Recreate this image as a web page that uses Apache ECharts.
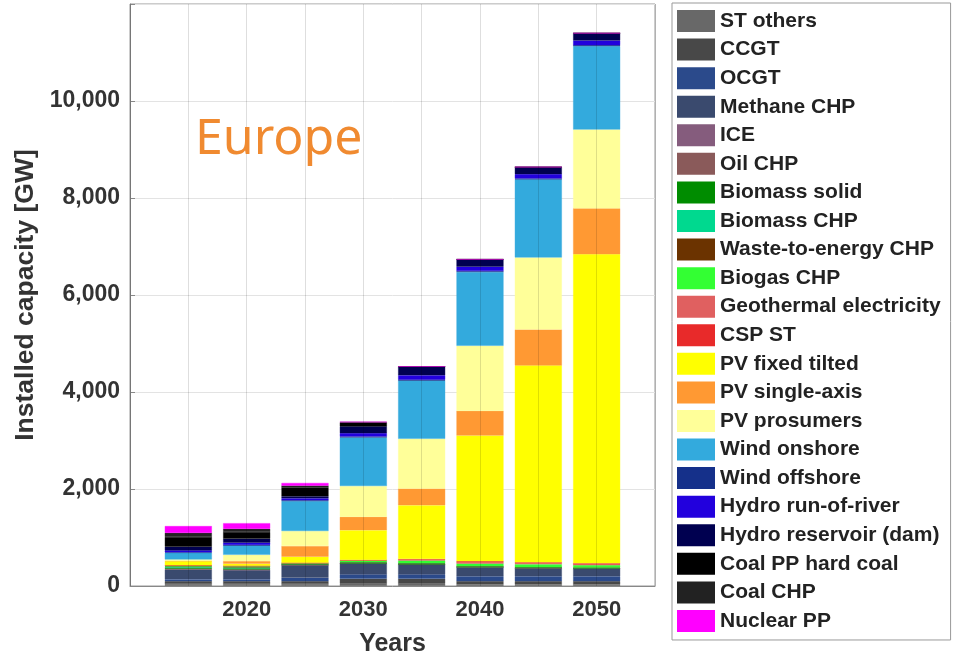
<!DOCTYPE html>
<html>
<head>
<meta charset="utf-8">
<script src="https://cdn.jsdelivr.net/npm/echarts@6/dist/echarts.min.js"></script>
<style>html,body{margin:0;padding:0;background:#fff}#c{width:956px;height:655px}</style>
</head>
<body>
<div id="c"></div>
<script>
const axisYears = ['2010', '2015', '2020', '2025', '2030', '2035', '2040', '2045', '2050', '2055'];
const years = ['2015', '2020', '2025', '2030', '2035', '2040', '2045', '2050'];
const xTickLabels = ['2020', '2030', '2040', '2050'];
const yTicks = [0, 2000, 4000, 6000, 8000, 10000];

const stOthers      = [40, 40, 40, 50, 50, 30, 30, 30];
const ccgt          = [60, 60, 60, 100, 100, 70, 70, 70];
const ocgt          = [40, 40, 70, 90, 90, 100, 100, 100];
const methaneChp    = [200, 190, 260, 225, 206, 188, 170, 160];
const ice           = [5, 5, 3, 0, 0, 0, 0, 0];
const oilChp        = [10, 5, 3, 0, 0, 0, 0, 0];
const biomassSolid  = [25, 25, 10, 15, 15, 10, 10, 10];
const biomassChp    = [15, 15, 5, 5, 5, 5, 5, 5];
const wasteChp      = [10, 10, 5, 5, 5, 5, 5, 5];
const biogasChp     = [15, 20, 15, 35, 55, 55, 60, 50];
const geothermal    = [3, 3, 3, 5, 10, 15, 15, 15];
const cspSt         = [5, 5, 5, 5, 20, 35, 25, 25];
const pvFixed       = [85, 40, 125, 616, 1110, 2590, 4058, 6372];
const pvSingle      = [5, 55, 220, 274, 342, 507, 740, 945];
const pvProsumers   = [30, 130, 310, 637, 1027, 1343, 1486, 1624];
const windOnshore   = [135, 190, 615, 1000, 1200, 1521, 1609, 1720];
const windOffshore  = [12, 15, 20, 20, 20, 20, 20, 22];
const hydroRor      = [40, 45, 40, 70, 90, 90, 90, 95];
const hydroRes      = [75, 80, 40, 140, 180, 150, 145, 150];
const coalHard      = [200, 140, 180, 80, 0, 0, 0, 0];
const coalChp       = [85, 65, 40, 10, 0, 0, 0, 0];
const nuclear       = [140, 117, 55, 0, 0, 0, 0, 0];

const seriesDefs = [
  ['ST others', stOthers, '#686868'],
  ['CCGT', ccgt, '#484848'],
  ['OCGT', ocgt, '#2B4A8B'],
  ['Methane CHP', methaneChp, '#3A4A6E'],
  ['ICE', ice, '#855C7D'],
  ['Oil CHP', oilChp, '#8A5A5A'],
  ['Biomass solid', biomassSolid, '#008C00'],
  ['Biomass CHP', biomassChp, '#00D98F'],
  ['Waste-to-energy CHP', wasteChp, '#6B3300'],
  ['Biogas CHP', biogasChp, '#33FF33'],
  ['Geothermal electricity', geothermal, '#E06060'],
  ['CSP ST', cspSt, '#E82A2A'],
  ['PV fixed tilted', pvFixed, '#FFFF00'],
  ['PV single-axis', pvSingle, '#FF9933'],
  ['PV prosumers', pvProsumers, '#FFFF99'],
  ['Wind onshore', windOnshore, '#33AADD'],
  ['Wind offshore', windOffshore, '#15308A'],
  ['Hydro run-of-river', hydroRor, '#2200DD'],
  ['Hydro reservoir (dam)', hydroRes, '#000050'],
  ['Coal PP hard coal', coalHard, '#000000'],
  ['Coal CHP', coalChp, '#222222'],
  ['Nuclear PP', nuclear, '#FF00FF']
];

const FONT = '"Liberation Sans", Arial, Helvetica, sans-serif';
const chart = echarts.init(document.getElementById('c'), null, {renderer: 'canvas'});

const series = seriesDefs.map(([name, vals, color]) => ({
  name: name,
  type: 'bar',
  stack: 'cap',
  barWidth: 47,
  itemStyle: {color: color, borderColor: color, borderWidth: 0.4},
  emphasis: {disabled: true},
  data: axisYears.map(y => {
    const i = years.indexOf(y);
    return i >= 0 ? vals[i] : '-';
  })
}));

chart.setOption({
  animation: false,
  backgroundColor: '#fff',
  title: {
    text: 'Europe',
    left: 190, top: 110,
    textStyle: {color: '#F08A30', fontSize: 50, fontWeight: 'normal', fontFamily: '"Noto Sans", "Open Sans", sans-serif'}
  },
  grid: {left: 130, right: 301, top: 4, bottom: 69, show: true, borderColor: '#999', borderWidth: 1,
         containLabel: false, outerBoundsMode: 'none'},
  legend: {
    orient: 'vertical',
    left: 672, top: 3,
    padding: [7, 10, 8, 5],
    itemWidth: 38, itemHeight: 22, itemGap: 6.57,
    icon: 'rect',
    itemStyle: {borderWidth: 0},
    borderColor: '#999', borderWidth: 1,
    selectedMode: false,
    textStyle: {fontFamily: FONT, fontWeight: 'bold', fontSize: 21, color: '#222'},
    data: seriesDefs.map(d => d[0])
  },
  xAxis: {
    type: 'category',
    data: axisYears,
    boundaryGap: false,
    z: 5,
    name: 'Years',
    nameLocation: 'middle',
    nameGap: 46,
    nameTextStyle: {fontFamily: FONT, fontWeight: 'bold', fontSize: 25, color: '#333'},
    axisLine: {show: true, lineStyle: {color: '#888'}},
    axisTick: {show: false},
    splitLine: {show: true, interval: 0, lineStyle: {color: 'rgba(0,0,0,0.13)', width: 1}},
    axisLabel: {
      interval: 0,
      fontFamily: FONT, fontWeight: 'bold', fontSize: 22, color: '#333', margin: 13,
      formatter: v => xTickLabels.indexOf(v) >= 0 ? v : ''
    }
  },
  yAxis: {
    type: 'value',
    min: 0, max: 12000, interval: 2000,
    name: 'Installed capacity [GW]',
    nameLocation: 'middle',
    nameGap: 79,
    nameTextStyle: {fontFamily: FONT, fontWeight: 'bold', fontSize: 26.5, color: '#333'},
    axisLine: {show: true, lineStyle: {color: '#888'}},
    axisTick: {show: true, inside: true, length: 5, lineStyle: {color: '#888'}},
    splitLine: {show: true, lineStyle: {color: '#e3e3e3'}},
    axisLabel: {
      fontFamily: FONT, fontWeight: 'bold', fontSize: 23, color: '#333', margin: 10,
      formatter: v => yTicks.indexOf(v) >= 0 ? v.toLocaleString('en-US') : ''
    }
  },
  series: series
});
</script>
</body>
</html>
